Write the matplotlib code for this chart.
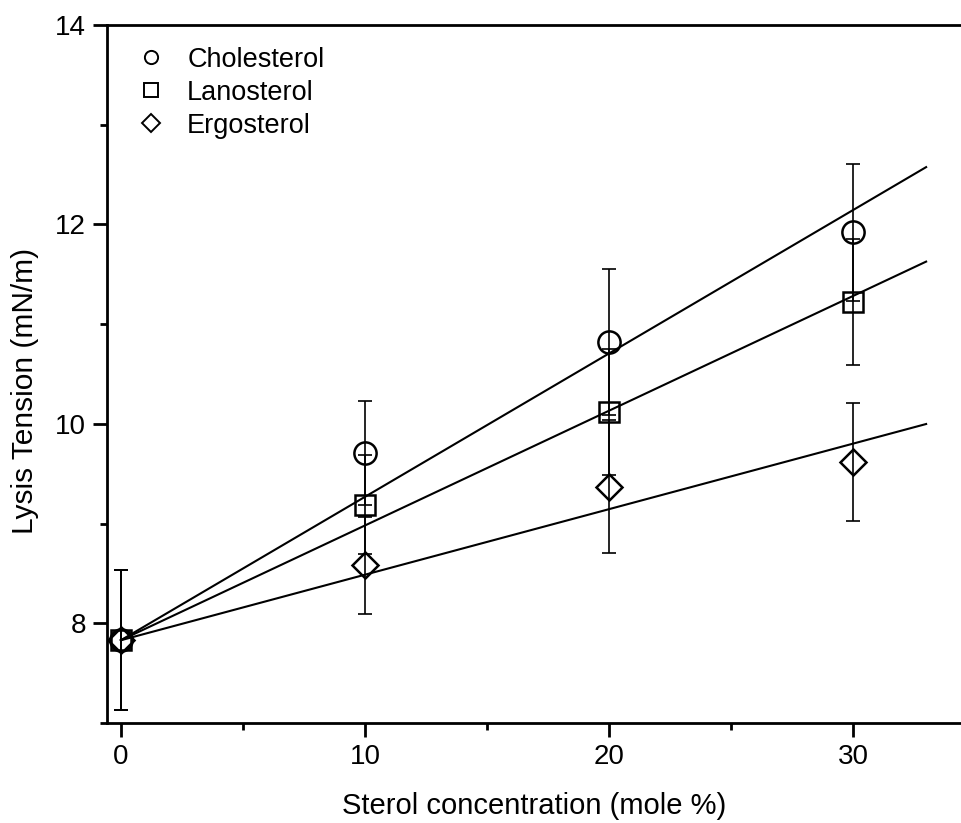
import matplotlib.pyplot as plt
import numpy as np
from matplotlib.lines import Line2D
from matplotlib.ticker import MultipleLocator

plt.rcParams['font.family'] = ['Liberation Sans', 'DejaVu Sans']

conc = [0, 10, 20, 30]

chol = [7.83, 9.71, 10.82, 11.92]
chol_err = [0.70, 0.52, 0.73, 0.69]
lano = [7.83, 9.19, 10.12, 11.22]
lano_err = [0.70, 0.50, 0.63, 0.63]
ergo = [7.83, 8.58, 9.37, 9.62]
ergo_err = [0.70, 0.49, 0.67, 0.59]

names = ['Cholesterol', 'Lanosterol', 'Ergosterol']
markers = ['o', 's', 'D']
msizes = [16, 14, 13.5]
fit_end = 33

fig = plt.figure(figsize=(9.62, 8.23), dpi=100)
ax = fig.add_axes([0.1112, 0.1215, 0.8888, 0.8481])

x = np.array(conc, dtype=float)
for y, err, mk, ms in zip([chol, lano, ergo], [chol_err, lano_err, ergo_err], markers, msizes):
    y = np.array(y)
    # linear fit with the intercept held at the 0 % value
    slope = np.sum(x * (y - y[0])) / np.sum(x * x)
    xf = np.array([0, fit_end])
    ax.plot(xf, y[0] + slope * xf, color='black', lw=1.5, zorder=2)
    ax.errorbar(x, y, yerr=err, fmt='none', ecolor='black', elinewidth=1.2,
                capsize=5, capthick=1.2, zorder=3)
    ax.plot(x, y, linestyle='none', marker=mk, ms=ms, mfc='none', mec='black',
            mew=1.8, zorder=4)

ax.set_xlim(-0.57, 34.47)
ax.set_ylim(7.0, 14.0)
ax.xaxis.set_major_locator(MultipleLocator(10))
ax.xaxis.set_minor_locator(MultipleLocator(5))
ax.yaxis.set_major_locator(MultipleLocator(2))
ax.yaxis.set_minor_locator(MultipleLocator(1))

ax.spines['right'].set_visible(False)
for s in ['left', 'bottom', 'top']:
    ax.spines[s].set_linewidth(2.0)
ax.tick_params(which='major', direction='out', length=10, width=2.0, labelsize=20, pad=5)
ax.tick_params(which='minor', direction='out', length=5, width=2.0)
ax.tick_params(top=False, which='both')

ax.set_xlabel('Sterol concentration (mole %)', fontsize=21, labelpad=16)
ax.set_ylabel('Lysis Tension (mN/m)', fontsize=21.5)
ax.yaxis.set_label_coords(-0.079, 0.476)

handles = [Line2D([], [], linestyle='none', marker=mk, ms=9.5, mfc='none', mec='black', mew=1.4)
           for mk in ['o', 's', 'D']]
ax.legend(handles, names, loc='upper left', bbox_to_anchor=(0.002, 1.004), frameon=False,
          fontsize=19.5, handletextpad=0.7, labelspacing=0.26, handlelength=1.3)

fig.savefig('out.png', dpi=100)
